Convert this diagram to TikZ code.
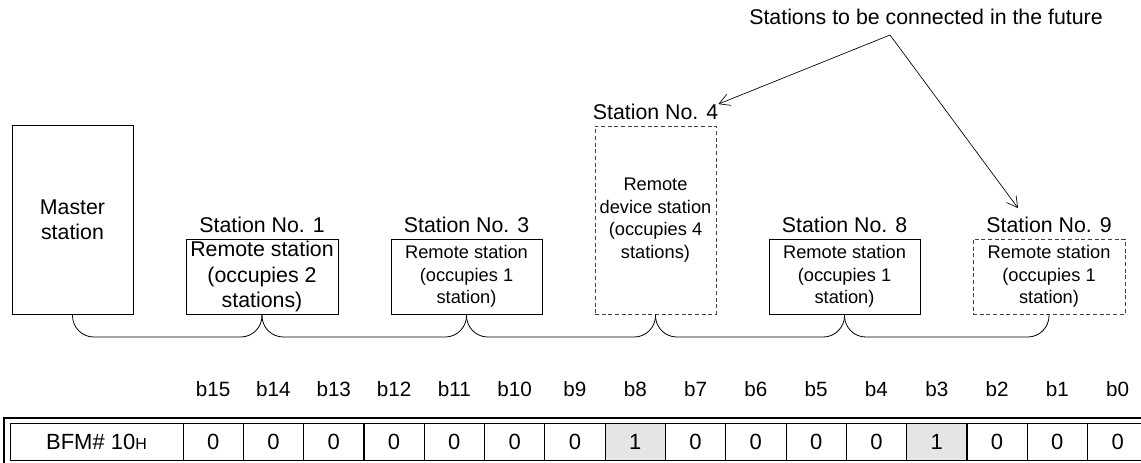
\documentclass[tikz,border=0pt]{standalone}
\usepackage{fontspec}
\setmainfont{Liberation Sans}
\usetikzlibrary{positioning,arrows.meta}
\newcommand\bigfont{\fontsize{16}{19}\selectfont}
\newcommand\boxfont{\fontsize{13.7}{16.9}\selectfont}
\newcommand\tabfont{\fontsize{16.5}{19}\selectfont}
\newcommand\bitfont{\fontsize{15.5}{18}\selectfont}
\begin{document}
\begin{tikzpicture}[x=0.75pt,y=-0.75pt,
    box/.style={draw,line width=0.6pt,inner sep=0pt,align=center},
    spare/.style={box,draw=black!75,dash pattern=on 3pt off 2pt},
    lbl/.style={inner sep=0pt,font=\bigfont},
    busline/.style={line width=0.6pt,rounded corners=16pt},
    pointer/.style={line width=0.5pt,-{Straight Barb[length=8pt,width=9pt]}},
    cell/.style={draw,line width=0.6pt,minimum width=45.2pt,minimum height=28.1pt,inner sep=0pt,font=\tabfont},
    cell0/.style={cell},
    cell1/.style={cell,fill=black!10},
    bitlbl/.style={inner sep=0pt,font=\bitfont}]
    \useasboundingbox (0,0) rectangle (1141,462);
    % stations
    \node[box,font=\bigfont,minimum width=90.75pt,minimum height=141.75pt] (m) at (72.5,219.5) {Master\\station};
    \node[box,font=\bigfont,minimum width=114pt,minimum height=56.25pt] (s1) at (262,276.5) {Remote station\\(occupies 2\\stations)};
    \node[box,font=\boxfont,minimum width=113.25pt,minimum height=56.25pt] (s3) at (466.5,276.5) {Remote station\\(occupies 1\\station)};
    \node[spare,font=\boxfont,minimum width=90.75pt,minimum height=141pt] (s4) at (655.5,220) {Remote\\device station\\(occupies 4\\stations)};
    \node[box,font=\boxfont,minimum width=113.25pt,minimum height=56.25pt] (s8) at (844.5,276.5) {Remote station\\(occupies 1\\station)};
    \node[spare,font=\boxfont,minimum width=114pt,minimum height=56.25pt] (s9) at (1049,276.5) {Remote station\\(occupies 1\\station)};
    \node[lbl,above=4pt of s1] (l1) {Station No. 1};
    \node[lbl,above=4pt of s3] (l3) {Station No. 3};
    \node[lbl,above=4pt of s4] (l4) {Station No. 4};
    \node[lbl,above=4pt of s8] (l8) {Station No. 8};
    \node[lbl,above=4pt of s9] (l9) {Station No. 9};
    % link
    \coordinate (bus) at (0,337);
    \foreach \a/\b in {m/s1,s1/s3,s3/s4,s4/s8,s8/s9}
        \draw[busline] (\a.south) |- (bus -| \b.south) -- (\b.south);
    % future stations
    \node[lbl] (fut) at (926,17) {Stations to be connected in the future};
    \coordinate (apex) at (890,35);
    \draw[pointer] (apex) -- (l4.north east);
    \draw[pointer] (apex) -- ([xshift=-23.25pt,yshift=6.75pt]l9.north);
    % BFM #10
    \node[cell,minimum width=129.75pt] (bfm) at (96.5,441.75) {BFM\#\ 10{\fontsize{12}{14}\selectfont H}};
    \foreach \v [count=\i from 0] in {0,0,0,0,0,0,0,1,0,0,0,0,1,0,0,0} {
        \pgfmathtruncatemacro\bit{15-\i}
        \node[cell\v] (c\i) at ({183+60.3*(\i+0.5)},441.75) {\v};
        \node[bitlbl] (b\i) at ({183+60.3*(\i+0.5)},389) {b\bit};
    }
    \draw[line width=1.5pt] (4,418) rectangle (1160,470);
    \draw[line width=0.6pt] (10,423) rectangle (1156,460.5);
\end{tikzpicture}
\end{document}
